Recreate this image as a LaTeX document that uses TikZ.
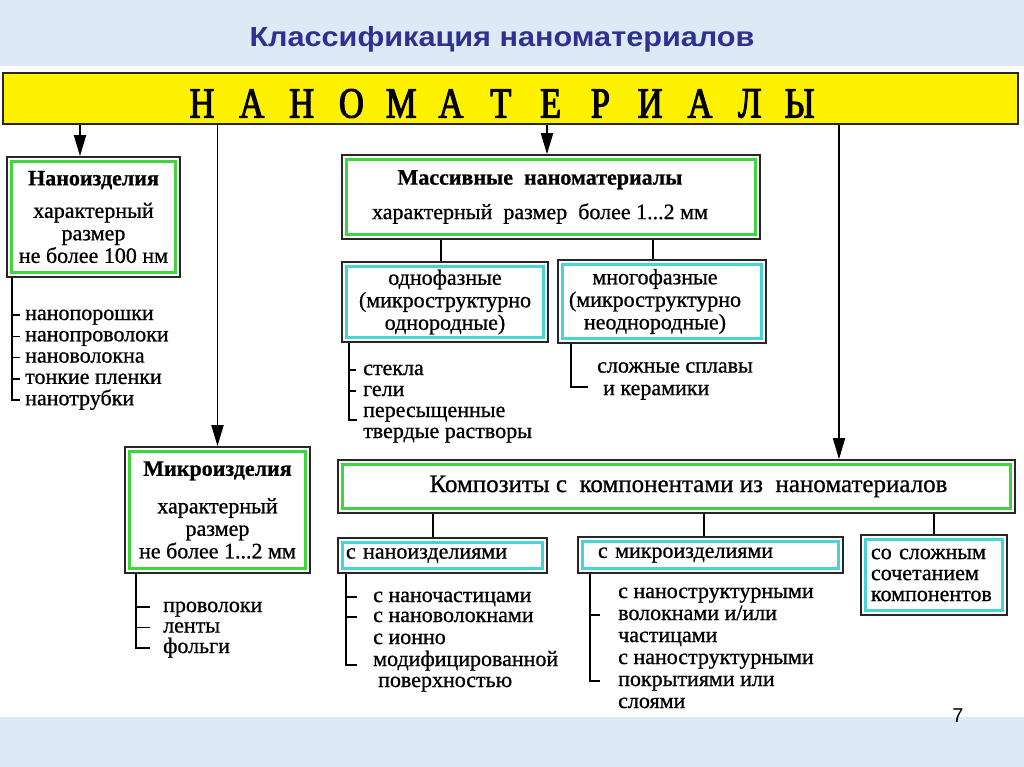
\documentclass[tikz,border=0pt]{standalone}
\usepackage{fontspec}
\setmainfont{Liberation Serif}[FakeBold=0.8]
\newfontfamily\titlefont{Liberation Sans}
\newfontfamily\bannerfont[FakeStretch=0.8, FakeBold=2.5]{Liberation Serif}
\usepackage{xcolor}
\usepackage{tikz}
\usetikzlibrary{arrows.meta, positioning, calc}

\definecolor{titleblue}{RGB}{46,49,146}
\definecolor{bgblue}{RGB}{222,233,246}
\definecolor{framegreen}{RGB}{60,215,60}
\definecolor{framecyan}{RGB}{70,212,212}

\begin{document}
\begin{tikzpicture}[x=1pt, y=-1pt, font=\fontsize{22}{22.5}\selectfont,
    box/.style={draw=black!85, line width=1.6pt, fill=white, inner sep=0pt, align=center},
    greenbox/.style={box, path picture={\draw[framegreen, line width=3pt]
        ([shift={(4.5pt,-4.5pt)}]path picture bounding box.north west) rectangle
        ([shift={(-4.5pt,4.5pt)}]path picture bounding box.south east);}},
    cyanbox/.style={box, path picture={\draw[framecyan, line width=3pt]
        ([shift={(4.5pt,-4.5pt)}]path picture bounding box.north west) rectangle
        ([shift={(-4.5pt,4.5pt)}]path picture bounding box.south east);}},
    arr/.style={line width=1.8pt, -{Triangle[length=21pt, width=12pt]}},
    link/.style={line width=1.8pt},
    brk/.style={line width=1.6pt},
    item/.style={anchor=west, inner sep=0pt, text height=10pt, text depth=0pt}]

    % background and white sheet
    \useasboundingbox (0,0) rectangle (1024,767);
    \fill[bgblue] (0,0) rectangle (1024,767);
    \fill[white] (0,66) rectangle (1024,717);

    \node[anchor=base, text=titleblue] (title) at (502,47)
        {\resizebox{505pt}{20pt}{\titlefont\bfseries Классификация наноматериалов}};
    \node[font=\titlefont\fontsize{20}{20}\selectfont] (pagenum) at (958,716) {7};

    % yellow banner
    \node[draw=black!85, line width=2pt, fill=yellow, minimum width=1015pt, minimum height=51pt] (banner) at (510.5,98.5) {};
    \foreach \l [count=\i from 0] in {Н,А,Н,О,М,А,Т,Е,Р,И,А,Л,Ы}
        \node[inner sep=0pt, font=\bannerfont\fontsize{43}{43}\selectfont] (b\i) at (202+49.8*\i,103.5) {\l};

    % main boxes
    \node[greenbox, minimum width=173pt, minimum height=120pt] (nano) at (93.5,217)
        {\textbf{Наноизделия}\\[10pt] характерный\\ размер\\ не более 100 нм};
    \node[greenbox, minimum width=185pt, minimum height=126pt] (micro) at (217.5,510)
        {\textbf{Микроизделия}\\[15pt] характерный\\ размер\\ не более 1...2 мм};
    \node[greenbox, minimum width=418pt, minimum height=84pt] (mass) at (551,197)
        {\hspace*{-22pt}\textbf{Массивные\ \ наноматериалы}\\[12pt]
         \hspace*{-22pt}характерный\ \ размер\ \ более 1...2 мм};
    \node[cyanbox, minimum width=206pt, minimum height=80pt] (one) at (445,302)
        {однофазные\\ (микроструктурно\\ однородные)};
    \node[cyanbox, minimum width=208pt, minimum height=83pt] (multi) at (662,301.5)
        {\hspace*{-14pt}многофазные\\ \hspace*{-14pt}(микроструктурно\\ \hspace*{-14pt}неоднородные)};
    \node[greenbox, minimum width=677pt, minimum height=53pt, font=\fontsize{25}{25}\selectfont] (comp) at (676.5,486.5)
        {\hspace*{24pt}Композиты с\ \ компонентами из\ \ наноматериалов};
    \node[cyanbox, minimum height=35pt, text width=193pt, inner xsep=8pt, align=left] (withnano) at (442.5,555.5)
        {с наноизделиями};
    \node[cyanbox, minimum height=36pt, text width=225pt, inner xsep=20pt, align=left] (withmicro) at (710.5,555)
        {с микроизделиями};
    \node[cyanbox, minimum height=80pt, text width=126pt, inner xsep=10pt, align=left, font=\fontsize{22}{21}\selectfont] (complex) at (934,575)
        {со сложным\\ сочетанием\\ компонентов};

    % arrows from the banner
    \coordinate (a1) at ([xshift=-13.5pt]nano.north);
    \coordinate (a3) at ([xshift=-4pt]mass.north);
    \coordinate (a4) at ([xshift=162.5pt]comp.north);
    \draw[arr] (a1 |- banner.south) -- (a1);
    \draw[arr] (micro.north |- banner.south) -- (micro.north);
    \draw[arr] (a3 |- banner.south) -- (a3);
    \draw[arr] (a4 |- banner.south) -- (a4);

    % links to the sub-boxes
    \coordinate (l1) at ([xshift=-4pt]one.north);
    \coordinate (l2) at ([xshift=-9pt]multi.north);
    \coordinate (l3) at ([xshift=-9.5pt]withnano.north);
    \coordinate (l4) at ([xshift=-6.5pt]withmicro.north);
    \draw[link] (l1 |- mass.south) -- (l1);
    \draw[link] (l2 |- mass.south) -- (l2);
    \draw[link] (l3 |- comp.south) -- (l3);
    \draw[link] (l4 |- comp.south) -- (l4);
    \draw[link] (complex.north |- comp.south) -- (complex.north);

    % list of nano-items
    \foreach \t [count=\i] in {нанопорошки, нанопроволоки, нановолокна, тонкие пленки, нанотрубки}
        \node[item] (n\i) at (25,293.7+21.3*\i) {\t};
    \coordinate (nl) at ([xshift=6pt]nano.south west);
    \draw[brk] (nl) |- ([xshift=-5pt]n5.west);
    \foreach \i in {1,...,4}
        \draw[brk] (n\i.west -| nl) -- ([xshift=-5pt]n\i.west);

    % list of micro-items
    \foreach \t [count=\i] in {проволоки, ленты, фольги}
        \node[item] (m\i) at (163,586.5+20.5*\i) {\t};
    \coordinate (ml) at ([xshift=12pt]micro.south west);
    \draw[brk] (ml) |- ([xshift=-13pt]m3.west);
    \foreach \i in {1,2}
        \draw[brk] (m\i.west -| ml) -- ([xshift=-13pt]m\i.west);

    % one-phase
    \node[item] (p1) at (363,370) {стекла};
    \node[item] (p2) at (363,391) {гели};
    \node[item] (p3) at (363,412) {пересыщенные};
    \node[item] (p4) at (363,433) {твердые растворы};
    \coordinate (pl) at ([xshift=8pt]one.south west);
    \draw[brk] (pl) |- ([xshift=-6pt, yshift=-8pt]p3.west);
    \foreach \i in {1,2}
        \draw[brk] (p\i.west -| pl) -- ([xshift=-7pt]p\i.west);

    % multi-phase
    \node[anchor=west, inner sep=0pt, align=left] (alloys) at (597,381)
        {сложные сплавы\\ \hspace*{6pt}и керамики};
    \coordinate (al) at ([xshift=14pt]multi.south west);
    \draw[brk] (al) |- ([xshift=-9pt, yshift=-6pt]alloys.west);

    % composites with nano-items
    \node[item] (w1) at (373,597) {с наночастицами};
    \node[item] (w2) at (373,617) {с нановолокнами};
    \node[item] (w3) at (373,639) {с ионно};
    \node[item] (w4) at (373,661) {модифицированной};
    \node[item] (w5) at (378,682) {поверхностью};
    \coordinate (wl) at ([xshift=9pt]withnano.south west);
    \draw[brk] (wl) |- ([xshift=-16pt, yshift=-4pt]w4.west);
    \foreach \i in {1,2}
        \draw[brk] (w\i.west -| wl) -- ([xshift=-16pt]w\i.west);

    % composites with micro-items
    \foreach \t [count=\i] in {с наноструктурными, волокнами и/или, частицами, с наноструктурными, покрытиями или, слоями}
        \node[item] (c\i) at (618,571+22*\i) {\t};
    \coordinate (cl) at ([xshift=13pt]withmicro.south west);
    \draw[brk] (cl) |- ([xshift=-18pt]c5.west);
    \draw[brk] (c2.west -| cl) -- ([xshift=-18pt]c2.west);
\end{tikzpicture}
\end{document}
